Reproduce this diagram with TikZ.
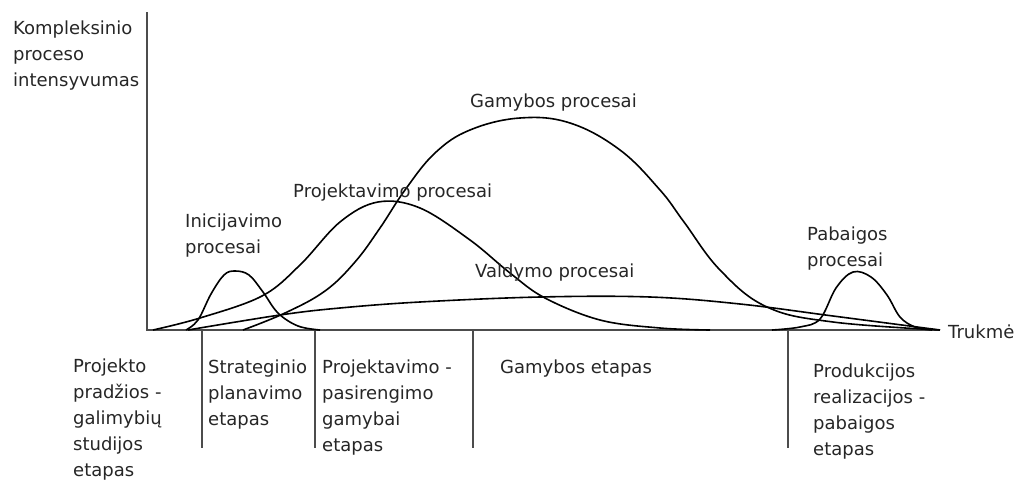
\documentclass[tikz,border=0pt]{standalone}
\usepackage{fontspec}
\setmainfont{DejaVu Sans}
\begin{document}
\begin{tikzpicture}[x=1pt,y=-1pt,
  lbl/.style={inner sep=0pt, align=left, font=\fontsize{18}{26}\selectfont, text=black!85},
  curve/.style={line width=1.6pt, black, line join=round},
  axisline/.style={line width=2pt, black!70},
  tickline/.style={line width=1.8pt, black!70}]
\useasboundingbox (0,0) rectangle (1021,482);

% axes
\coordinate (O) at (147,330);
\coordinate (Ytop) at (147,12);
\coordinate (Xend) at (940,330);
\draw[axisline] (Ytop) -- (O) -- (Xend);

% ticks
\coordinate (t1a) at (202,330); \coordinate (t1b) at (202,448);
\coordinate (t2a) at (315,330); \coordinate (t2b) at (315,448);
\coordinate (t3a) at (473,330); \coordinate (t3b) at (473,448);
\coordinate (t4a) at (788,330); \coordinate (t4b) at (788,448);
\draw[tickline] (t1a) -- (t1b);
\draw[tickline] (t2a) -- (t2b);
\draw[tickline] (t3a) -- (t3b);
\draw[tickline] (t4a) -- (t4b);

% Inicijavimo
\draw[curve] plot[smooth, tension=0.6] coordinates {(186,330) (198,320) (211,294) (224,275) (235,271) (249,275) (263,292) (278,313) (298,326) (320,330)};
% Projektavimo
\draw[curve] plot[smooth, tension=0.6] coordinates {(153,330) (200,318) (262,296) (300,265) (340,222) (378,202) (420,208) (470,240) (510,273) (545,298) (600,320) (660,328) (710,330)};
% Gamybos
\draw[curve] plot[smooth, tension=0.65] coordinates {(243,330) (285,313) (325,291) (355,262) (380,228) (405,190) (435,153) (470,130) (520,118) (570,123) (620,150) (660,190) (684,222) (720,270) (767,307) (833,322) (940,330)};
% Valdymo
\draw[curve] plot[smooth, tension=0.6] coordinates {(188,330) (280,315) (340,308) (420,302) (540,297) (650,297) (740,304) (833,316) (940,330)};
% Pabaigos
\draw[curve] plot[smooth, tension=0.6] coordinates {(772,330) (800,327) (820,319) (836,288) (853,272) (871,277) (887,295) (900,317) (915,327) (932,330)};

% labels
\node[lbl, anchor=north west] (ylab) at (13,20.3) {Kompleksinio\\proceso\\intensyvumas};
\node[lbl, anchor=base west] (xlab) at (948,338) {Trukmė};
\node[lbl, anchor=base west] (gp) at (470,107) {Gamybos procesai};
\node[lbl, anchor=base west] (pp) at (293,197) {Projektavimo procesai};
\node[lbl, anchor=north west] (ip) at (185,213.3) {Inicijavimo\\procesai};
\node[lbl, anchor=base west] (vp) at (475,277) {Valdymo procesai};
\node[lbl, anchor=north west] (pbp) at (807,226.3) {Pabaigos\\procesai};

\node[lbl, anchor=north west] (e1) at (73,358.3) {Projekto\\pradžios -\\galimybių\\studijos\\etapas};
\node[lbl, anchor=north west] (e2) at (208,359.3) {Strateginio\\planavimo\\etapas};
\node[lbl, anchor=north west] (e3) at (322,359.3) {Projektavimo -\\pasirengimo\\gamybai\\etapas};
\node[lbl, anchor=base west] (e4) at (500,373) {Gamybos etapas};
\node[lbl, anchor=north west] (e5) at (813,363.3) {Produkcijos\\realizacijos -\\pabaigos\\etapas};
\end{tikzpicture}
\end{document}
